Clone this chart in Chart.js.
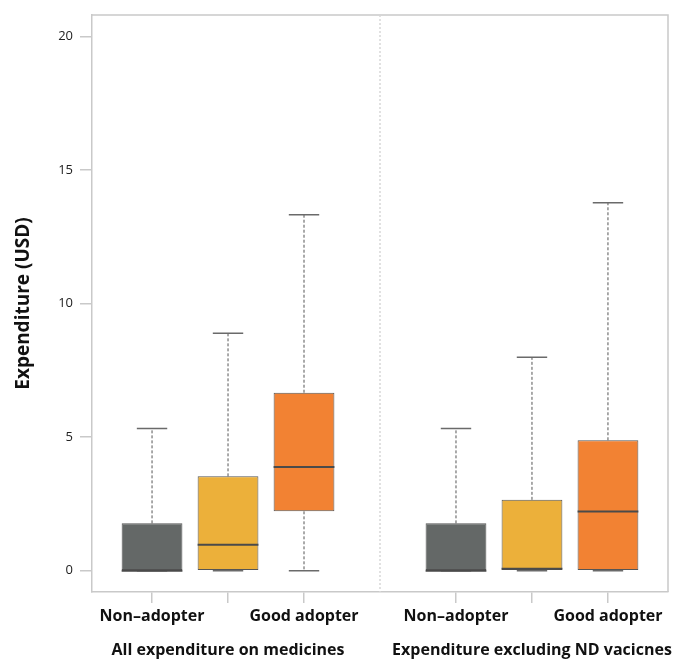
<!DOCTYPE html>
<html>
<head>
<meta charset="utf-8">
<script src="https://cdn.jsdelivr.net/npm/chart.js@4"></script>
<style>
  html, body { margin: 0; padding: 0; background: #fff; }
  #wrap { width: 675px; height: 660px; }
</style>
</head>
<body>
<div id="wrap"><canvas id="boxChart" width="675" height="660"></canvas></div>
<script>
// Box positions on the x axis (slot 3 is the gap between the two panels)
const xPos = [0, 1, 2, 4, 5, 6];
const tickLabels = ["Non–adopter", "", "Good adopter", "Non–adopter", "", "Good adopter"];
const groupPos = [1, 5];
const groupLabels = ["All expenditure on medicines", "Expenditure excluding ND vacicnes"];
const yTicks = [0, 5, 10, 15, 20];

// Box plot statistics (USD)
const whiskerLow = [0, 0, 0, 0, 0, 0];
const q1 = [0, 0, 2.22, 0, 0, 0];
const median = [0, 0.97, 3.88, 0, 0.07, 2.21];
const q3 = [1.77, 3.53, 6.66, 1.77, 2.65, 4.88];
const whiskerHigh = [5.32, 8.89, 13.32, 5.32, 7.99, 13.77];

const boxColors = ["#646867", "#ecb03a", "#f28233", "#646867", "#ecb03a", "#f28233"];
const frameColor = "#c9c9c9";
const fontFamily = "'Open Sans', sans-serif";

// Fixed axis sizes so long labels don't squeeze the plot area
function fixX(height) {
  return s => {
    s.height = height;
    s.paddingLeft = 0;
    s.paddingRight = 0;
  };
}

// Draws top/right frame and the dotted panel separator
const framePlugin = {
  id: "frame",
  beforeDatasetsDraw(chart) {
    const { ctx, chartArea: a, scales } = chart;
    ctx.save();
    ctx.strokeStyle = frameColor;
    ctx.lineWidth = 1.5;
    ctx.beginPath();
    ctx.moveTo(a.left, a.top);
    ctx.lineTo(a.right, a.top);
    ctx.lineTo(a.right, a.bottom);
    ctx.stroke();

    const sx = scales.x.getPixelForValue(3);
    ctx.strokeStyle = "#d8d8d8";
    ctx.lineWidth = 1.5;
    ctx.setLineDash([2, 2]);
    ctx.beginPath();
    ctx.moveTo(sx, a.top);
    ctx.lineTo(sx, a.bottom);
    ctx.stroke();
    ctx.restore();
  }
};

// Whiskers, caps and medians drawn on top of the bars
const boxPlugin = {
  id: "boxParts",
  afterDatasetsDraw(chart) {
    const { ctx, scales } = chart;
    const y = scales.y;
    const bars = chart.getDatasetMeta(0).data;
    ctx.save();
    bars.forEach((bar, i) => {
      const cx = bar.x;
      const half = bar.width / 2;
      const cap = bar.width / 4;

      // dashed whiskers
      ctx.strokeStyle = "#555";
      ctx.lineWidth = 1;
      ctx.setLineDash([3, 2]);
      ctx.beginPath();
      ctx.moveTo(cx, y.getPixelForValue(q3[i]));
      ctx.lineTo(cx, y.getPixelForValue(whiskerHigh[i]));
      if (q1[i] > whiskerLow[i]) {
        ctx.moveTo(cx, y.getPixelForValue(q1[i]));
        ctx.lineTo(cx, y.getPixelForValue(whiskerLow[i]));
      }
      ctx.stroke();

      // caps
      ctx.setLineDash([]);
      ctx.strokeStyle = "#6a6a6a";
      ctx.lineWidth = 1.5;
      ctx.beginPath();
      [whiskerHigh[i], whiskerLow[i]].forEach(v => {
        const py = y.getPixelForValue(v);
        ctx.moveTo(cx - cap, py);
        ctx.lineTo(cx + cap, py);
      });
      ctx.stroke();

      // median
      ctx.strokeStyle = "#4a4a4a";
      ctx.lineWidth = 2;
      ctx.beginPath();
      const my = y.getPixelForValue(median[i]);
      ctx.moveTo(cx - half, my);
      ctx.lineTo(cx + half, my);
      ctx.stroke();
    });
    ctx.restore();
  }
};

const ctx = document.getElementById("boxChart").getContext("2d");
new Chart(ctx, {
  type: "bar",
  data: {
    datasets: [{
      data: xPos.map((x, i) => ({ x: x, y: [q1[i], q3[i]] })),
      backgroundColor: boxColors,
      borderColor: "#555",
      borderWidth: 1,
      borderSkipped: false,
      categoryPercentage: 1,
      barPercentage: 0.8
    }]
  },
  options: {
    responsive: false,
    animation: false,
    layout: { padding: { top: 15, right: 7, left: 0, bottom: 0 } },
    plugins: { legend: { display: false }, tooltip: { enabled: false } },
    scales: {
      x: {
        type: "linear",
        offset: false,
        min: -0.79,
        max: 6.79,
        position: "bottom",
        afterBuildTicks: s => { s.ticks = xPos.map(v => ({ value: v })); },
        afterFit: fixX(38),
        grid: { offset: false, drawOnChartArea: false, drawTicks: true, tickLength: 11, color: frameColor, lineWidth: 1.5 },
        border: { display: true, color: frameColor, width: 1.5 },
        ticks: {
          autoSkip: false,
          maxRotation: 0,
          padding: 4,
          color: "#111",
          font: { family: fontFamily, size: 16, weight: "bold" },
          callback: (v, i) => tickLabels[i]
        }
      },
      x2: {
        type: "linear",
        offset: false,
        min: -0.79,
        max: 6.79,
        position: "bottom",
        afterBuildTicks: s => { s.ticks = groupPos.map(v => ({ value: v })); },
        afterFit: fixX(30),
        grid: { offset: false, display: false, drawTicks: false },
        border: { display: false },
        ticks: {
          autoSkip: false,
          maxRotation: 0,
          padding: 11,
          color: "#111",
          font: { family: fontFamily, size: 16, weight: "bold" },
          callback: (v, i) => groupLabels[i]
        }
      },
      y: {
        min: -0.8,
        max: 20.8,
        afterBuildTicks: s => { s.ticks = yTicks.map(v => ({ value: v })); },
        afterFit: s => { s.width = 92; },
        grid: { drawOnChartArea: false, drawTicks: true, tickLength: 12, color: frameColor, lineWidth: 1.5 },
        border: { display: true, color: frameColor, width: 1.5 },
        ticks: {
          padding: 7,
          color: "#222",
          font: { family: fontFamily, size: 13 }
        },
        title: {
          display: true,
          text: "Expenditure (USD)",
          color: "#111",
          padding: { top: 12, bottom: 0 },
          font: { family: fontFamily, size: 19, weight: "bold" }
        }
      }
    }
  },
  plugins: [framePlugin, boxPlugin]
});
</script>
</body>
</html>
